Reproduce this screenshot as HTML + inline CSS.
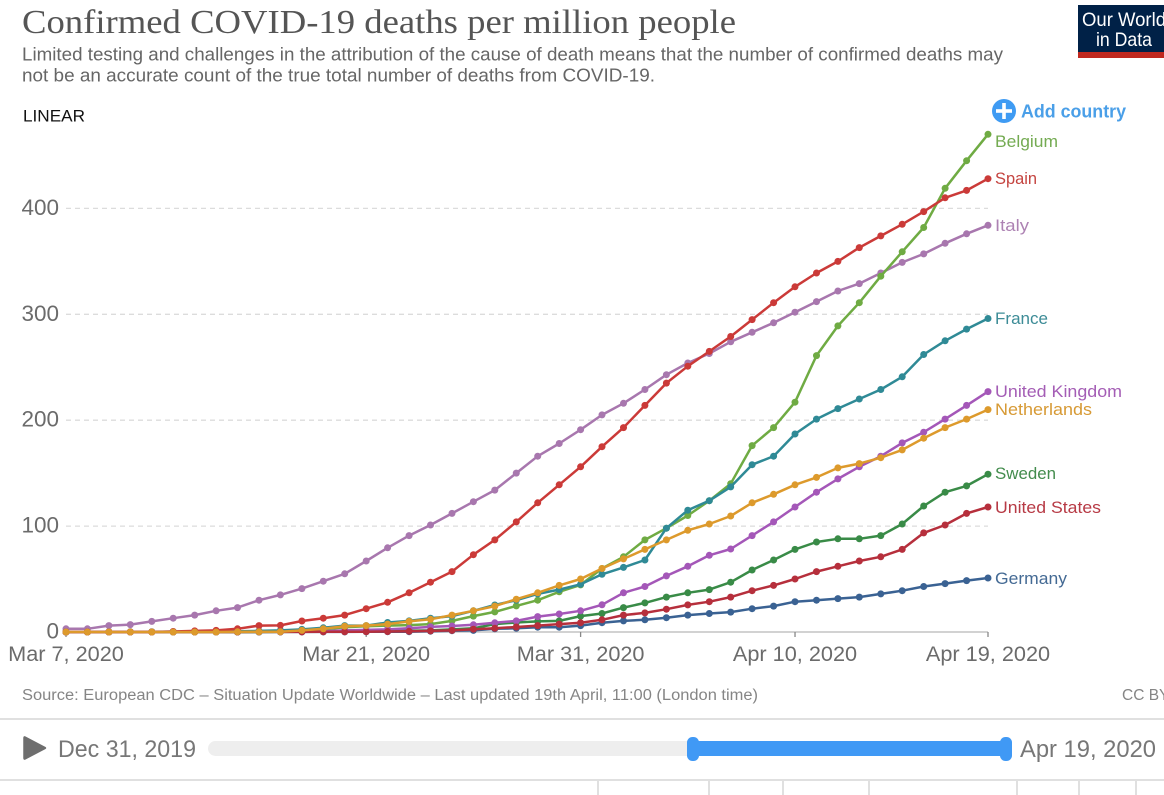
<!DOCTYPE html>
<html lang="en">
<head>
<meta charset="utf-8">
<title>Confirmed COVID-19 deaths per million people</title>
<style>
html,body{margin:0;padding:0;background:#fff;width:1164px;height:795px;overflow:hidden}
svg{display:block}
text{font-family:"Liberation Sans",sans-serif}
.serif{font-family:"Liberation Serif",serif}
</style>
</head>
<body>
<svg id="chart" width="1164" height="795" viewBox="0 0 1164 795" xmlns="http://www.w3.org/2000/svg">
  <rect x="0" y="0" width="1164" height="795" fill="#fff"/>
  <text class="serif" x="22" y="33" font-size="34" fill="#555" textLength="714" lengthAdjust="spacingAndGlyphs">Confirmed COVID-19 deaths per million people</text>
  <text x="22" y="60.5" font-size="18.5" fill="#666" textLength="981" lengthAdjust="spacingAndGlyphs">Limited testing and challenges in the attribution of the cause of death means that the number of confirmed deaths may</text>
  <text x="22" y="81.5" font-size="18.5" fill="#666" textLength="633" lengthAdjust="spacingAndGlyphs">not be an accurate count of the true total number of deaths from COVID-19.</text>
  <text x="23" y="121.5" font-size="17" fill="#111" textLength="62" lengthAdjust="spacingAndGlyphs">LINEAR</text>

  <g>
    <rect x="1078" y="5" width="86" height="47" fill="#002147"/>
    <rect x="1078" y="52" width="86" height="6" fill="#c0281f"/>
    <text x="1082" y="26" font-size="19.5" fill="#fff" textLength="84" lengthAdjust="spacingAndGlyphs">Our World</text>
    <text x="1096" y="46" font-size="19.5" fill="#fff" textLength="56" lengthAdjust="spacingAndGlyphs">in Data</text>
  </g>

  <g>
    <circle cx="1004" cy="111" r="12" fill="#3f9bf3"/>
    <rect x="996" y="109.2" width="16" height="3.6" fill="#fff"/>
    <rect x="1002.2" y="103" width="3.6" height="16" fill="#fff"/>
    <text x="1021" y="117.5" font-size="18" font-weight="700" fill="#4a9fe8" textLength="105" lengthAdjust="spacingAndGlyphs">Add country</text>
  </g>

  <g id="grid"></g>
  <g id="axes"></g>
  <g id="marks"></g>

  <g font-size="17">
    <text x="995" y="147" fill="#74ab52" textLength="63" lengthAdjust="spacingAndGlyphs">Belgium</text>
    <text x="995" y="184" fill="#c4433f" textLength="42" lengthAdjust="spacingAndGlyphs">Spain</text>
    <text x="995" y="231" fill="#ad82b3" textLength="34" lengthAdjust="spacingAndGlyphs">Italy</text>
    <text x="995" y="324" fill="#3d8c97" textLength="53" lengthAdjust="spacingAndGlyphs">France</text>
    <text x="995" y="397" fill="#a45db5" textLength="127" lengthAdjust="spacingAndGlyphs">United Kingdom</text>
    <text x="995" y="415" fill="#d79a35" textLength="97" lengthAdjust="spacingAndGlyphs">Netherlands</text>
    <text x="995" y="479" fill="#438c4d" textLength="61" lengthAdjust="spacingAndGlyphs">Sweden</text>
    <text x="995" y="513" fill="#b73a45" textLength="106" lengthAdjust="spacingAndGlyphs">United States</text>
    <text x="995" y="584" fill="#446a94" textLength="72" lengthAdjust="spacingAndGlyphs">Germany</text>
  </g>

  <text x="22" y="700" font-size="15.5" fill="#858585" textLength="736" lengthAdjust="spacingAndGlyphs">Source: European CDC – Situation Update Worldwide – Last updated 19th April, 11:00 (London time)</text>
  <text x="1122" y="700" font-size="15.5" fill="#858585">CC BY</text>

  <rect x="0" y="718" width="1164" height="2" fill="#e0e0e0"/>
  <path d="M25 737 L45 747.5 Q46 748 45 748.5 L25 759 Q24 759.5 24 758 L24 738 Q24 736.5 25 737 Z" fill="#6e6e6e" stroke="#6e6e6e" stroke-width="1.5" stroke-linejoin="round"/>
  <text x="58" y="757" font-size="24" fill="#777" textLength="138" lengthAdjust="spacingAndGlyphs">Dec 31, 2019</text>
  <rect x="208" y="741" width="490" height="15" rx="7.5" fill="#eeeeee"/>
  <rect x="692" y="741" width="314" height="15" fill="#4099f5"/>
  <rect x="687" y="737" width="12" height="24" rx="5.5" fill="#4099f5"/>
  <rect x="1000" y="737" width="12" height="24" rx="5.5" fill="#4099f5"/>
  <text x="1020" y="757" font-size="24" fill="#777" textLength="136" lengthAdjust="spacingAndGlyphs">Apr 19, 2020</text>
  <rect x="0" y="779" width="1164" height="2" fill="#e0e0e0"/>
  <g fill="#e0e0e0">
    <rect x="597" y="781" width="2" height="14"/>
    <rect x="708" y="781" width="2" height="14"/>
    <rect x="782" y="781" width="2" height="14"/>
    <rect x="868" y="781" width="2" height="14"/>
    <rect x="1016" y="781" width="2" height="14"/>
    <rect x="1078" y="781" width="2" height="14"/>
    <rect x="1135" y="781" width="2" height="14"/>
  </g>
</svg>
<script>
var dates = ["Mar 7","Mar 8","Mar 9","Mar 10","Mar 11","Mar 12","Mar 13","Mar 14","Mar 15","Mar 16","Mar 17","Mar 18","Mar 19","Mar 20","Mar 21","Mar 22","Mar 23","Mar 24","Mar 25","Mar 26","Mar 27","Mar 28","Mar 29","Mar 30","Mar 31","Apr 1","Apr 2","Apr 3","Apr 4","Apr 5","Apr 6","Apr 7","Apr 8","Apr 9","Apr 10","Apr 11","Apr 12","Apr 13","Apr 14","Apr 15","Apr 16","Apr 17","Apr 18","Apr 19"];
var yTickValues = [0,100,200,300,400];
var xTickDates = ["Mar 7","Mar 21","Mar 31","Apr 10","Apr 19"];
var xTickLabels = ["Mar 7, 2020","Mar 21, 2020","Mar 31, 2020","Apr 10, 2020","Apr 19, 2020"];
var germanyValues = [0,0,0,0,0,0,0,0,0,0,0.1,0.1,0.1,0.1,0.2,0.3,0.3,0.8,1.2,1.5,3,3.5,4.5,4.5,6,8.8,10.5,11.5,13.5,16,17.5,18.8,22,24.5,28.6,30,31.5,33,36,39,43,45.7,48.5,51];
var italyValues = [3,3,6,7,10,13,16,20,23,30,35,41,48,55,67,79.5,91,101,112,123,134,150,166,178,191,205,216,229,243,254,263,274,283,292,302,312,322,329,339,349,357,367,376,384];
var swedenValues = [0,0,0,0,0,0,0,0,0,0,0.1,0.2,0.4,0.7,0.7,1,1.2,1.5,2.5,3.5,7.5,9,10,10.5,15,17.5,23,27.5,33,37,40,47,58.5,68,78,85,88,88,91,102,119,132,138,149];
var belgiumValues = [0,0,0,0,0,0,0,0,0,0.3,0.3,0.5,2.5,4.5,5.5,6,6.5,7.5,10.5,15,19,24.6,30,38,44.5,60,71,87,98,110,124,140,176,193,217,261,289,311,336,359,382,419,445,470];
var franceValues = [0,0,0.1,0.2,0.3,0.4,0.4,0.6,0.7,1,1.5,2.5,4,6,6,9,10.5,13,15,20,25.5,30,36,40,45,54.5,61,68,98,115,124,137,158,166,187,201,211,220,229,241,262,275,286,296];
var ukValues = [0,0,0,0,0,0.1,0.1,0.1,0.2,0.3,0.3,0.4,0.8,1.5,2,2.5,3.5,4.8,5.7,6.8,8.7,10.5,14.5,17,20,25.7,37,43,53,62,72.4,78.4,91,104,118,132,144.6,156,166,178.6,188.7,201,214,227];
var spainValues = [0,0,0,0,0,0.5,1,1.5,3,6,6.2,10.4,13,16,22,28,37,47,57,73,87,104,122,139,156,175,193,214,235,251,265,279,295,311,326,339,350,363,374,385,397,410,417,428];
var usValues = [0,0,0,0,0,0,0,0,0,0.1,0.1,0.1,0.2,0.2,0.3,0.5,0.7,1,1.5,2.6,3.6,4.7,6,7.5,8.8,11.5,16,18,21.5,25.6,28.6,33,39,44,50,57,62,67,71,78,93.6,101,112,118];
var netherlandsValues = [0,0,0,0,0,0,0,0,0.2,0.2,0.3,1.5,3,5.5,6,7.5,10,12,16,20,24.5,31,37,44,50,60,69,78,87,96,102,109.5,122,130,139,146,155,159,164.6,172,183,193,201,210];

var NS = "http://www.w3.org/2000/svg";
var PLOT_LEFT = 66, PLOT_RIGHT = 988, PLOT_BOTTOM = 632, PX_PER_UNIT = 1.059;
function xScale(i){ return PLOT_LEFT + i * (PLOT_RIGHT - PLOT_LEFT) / (dates.length - 1); }
function yScale(v){ return PLOT_BOTTOM - v * PX_PER_UNIT; }
function make(tag, attrs, parent){
  var el = document.createElementNS(NS, tag);
  for (var k in attrs) el.setAttribute(k, attrs[k]);
  parent.appendChild(el);
  return el;
}
var grid = document.getElementById("grid");
var axes = document.getElementById("axes");
var marks = document.getElementById("marks");

yTickValues.forEach(function(v){
  if (v !== 0) {
    var line = make("line", {x1:PLOT_LEFT, x2:PLOT_RIGHT, y1:yScale(v), y2:yScale(v), stroke:"#dcdcdc", "stroke-width":1.3, "stroke-dasharray":"5,4"}, grid);
    
    
  }
  var t = make("text", {x:59, y:yScale(v)+6.5, "font-size":22.5, fill:"#6b6b6b", "text-anchor":"end"}, axes);
  t.textContent = String(v);
  
  
});

var baseline = make("line", {x1:PLOT_LEFT, x2:PLOT_RIGHT, y1:PLOT_BOTTOM, y2:PLOT_BOTTOM, stroke:"#c4c4c4", "stroke-width":1.5}, axes);



xTickDates.forEach(function(d, n){
  var i = dates.indexOf(d);
  var tick = make("line", {x1:xScale(i), x2:xScale(i), y1:PLOT_BOTTOM, y2:PLOT_BOTTOM+5, stroke:"#888", "stroke-width":1.3}, axes);
  
  
  var t = make("text", {x:xScale(i), y:661, "font-size":21.7, fill:"#6b6b6b", "text-anchor":"middle"}, axes);
  t.textContent = xTickLabels[n];
  
  
});

function drawSeries(name, values, color){
  var g = make("g", {}, marks);
  
  
  var pts = values.map(function(v, i){ return xScale(i).toFixed(1) + "," + yScale(v).toFixed(1); }).join(" ");
  var line = make("polyline", {points:pts, fill:"none", stroke:color, "stroke-width":2.5, "stroke-linejoin":"round"}, g);
  
  
  values.forEach(function(v, i){
    var dot = make("circle", {cx:xScale(i).toFixed(1), cy:yScale(v).toFixed(1), r:3.5, fill:color}, g);
    
    
  });
}
drawSeries("series-germany", germanyValues, "#3a6293");
drawSeries("series-italy", italyValues, "#a877ae");
drawSeries("series-sweden", swedenValues, "#398b47");
drawSeries("series-belgium", belgiumValues, "#6fab43");
drawSeries("series-france", franceValues, "#2f8a96");
drawSeries("series-united-kingdom", ukValues, "#a457b8");
drawSeries("series-spain", spainValues, "#cb3a38");
drawSeries("series-united-states", usValues, "#b62f3c");
drawSeries("series-netherlands", netherlandsValues, "#dd9a2c");
</script>
</body>
</html>
